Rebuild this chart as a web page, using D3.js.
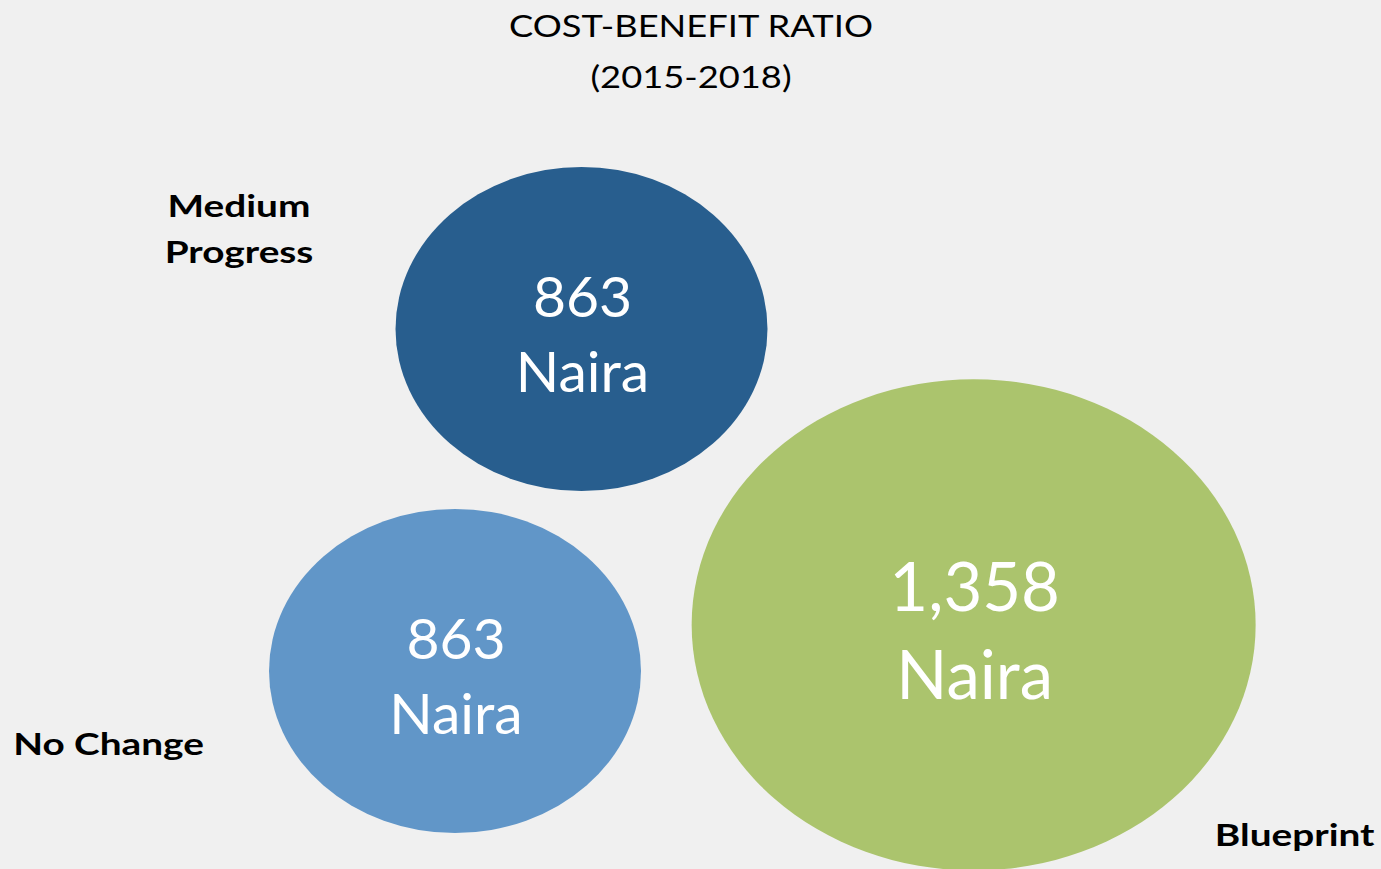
<!DOCTYPE html>
<html>
<head>
<meta charset="utf-8">
<script src="https://cdn.jsdelivr.net/npm/d3@7"></script>
<style>
  body { margin: 0; background: #f0f0f0; }
  svg { display: block; }
</style>
</head>
<body>
<script>
// data
var categories = ["No Change", "Medium Progress", "Blueprint"];
var values = [863, 863, 1358];
var xValues = [1, 2, 5.1];
var yValues = [1, 3, 1.27];
var unit = "Naira";
var titleLines = ["COST-BENEFIT RATIO", "(2015-2018)"];

var colors = ["#6196c8", "#285e8e", "#abc46d"];

var width = 1381, height = 869;
var aspect = 0.871;   // bubbles come out as ellipses in the picture

var dataset = categories.map(function(c, i) {
  return {cat: c, value: values[i], x: xValues[i], y: yValues[i], color: colors[i]};
});

var x = d3.scaleLinear().domain([0, 6]).range([328.5, 1087.5]);
var y = d3.scaleLinear().domain([0, 4]).range([842, 158]);
var r = d3.scaleLinear().domain(d3.extent(values)).range([186, 282]);
var fontSize = d3.scaleLinear().domain(d3.extent(values)).range([57, 67]);

var svg = d3.select("body").append("svg")
    .attr("width", width)
    .attr("height", height)
    .style("background-color", "#f0f0f0");

// title
svg.selectAll(".title")
    .data(titleLines)
    .enter().append("text")
    .attr("class", "title")
    .attr("text-anchor", "middle")
    .attr("transform", function(d, i) { return "translate(691," + (37 + i * 51) + ") scale(1.21,1)"; })
    .style("font-family", "Lato, 'Open Sans', sans-serif")
    .style("font-size", "30px")
    .style("fill", "#000")
    .text(function(d) { return d; });

// bubbles
svg.selectAll(".bubble")
    .data(dataset)
    .enter().append("ellipse")
    .attr("class", "bubble")
    .attr("cx", function(d) { return x(d.x); })
    .attr("cy", function(d) { return y(d.y); })
    .attr("rx", function(d) { return r(d.value); })
    .attr("ry", function(d) { return r(d.value) * aspect; })
    .style("fill", function(d) { return d.color; });

// value labels inside bubbles
var vl = svg.selectAll(".vlabel")
    .data(dataset)
    .enter().append("text")
    .attr("class", "vlabel")
    .attr("text-anchor", "middle")
    .attr("transform", function(d) {
      var fs = fontSize(d.value);
      return "translate(" + (x(d.x) + 1) + "," + (y(d.y) - fs * 0.21) + ")";
    })
    .style("font-family", "Lato, 'Open Sans', sans-serif")
    .style("font-size", function(d) { return fontSize(d.value) + "px"; })
    .style("fill", "#fff");
vl.append("tspan")
    .attr("x", 0)
    .text(function(d) { return d3.format(",")(d.value); });
vl.append("tspan")
    .attr("x", 0)
    .attr("dy", function(d) { return fontSize(d.value) * 1.32; })
    .text(unit);

// category labels, offset from bubble centres
var labelOffset = {
  "No Change": [-346.5, 84],
  "Medium Progress": [-342.5, -112],
  "Blueprint": [321, 221]
};

var cl = svg.selectAll(".clabel")
    .data(dataset)
    .enter().append("text")
    .attr("class", "clabel")
    .attr("text-anchor", "middle")
    .attr("transform", function(d) {
      var o = labelOffset[d.cat];
      return "translate(" + (x(d.x) + o[0]) + "," + (y(d.y) + o[1]) + ") scale(1.25,1)";
    })
    .style("font-family", "Lato, 'Open Sans', sans-serif")
    .style("font-weight", "bold")
    .style("font-size", "31px")
    .style("fill", "#000");
cl.selectAll("tspan")
    .data(function(d) { return d.cat === "Medium Progress" ? ["Medium", "Progress"] : [d.cat]; })
    .enter().append("tspan")
    .attr("x", 0)
    .attr("dy", function(d, i) { return i ? 46 : 0; })
    .text(function(d) { return d; });
</script>
</body>
</html>
